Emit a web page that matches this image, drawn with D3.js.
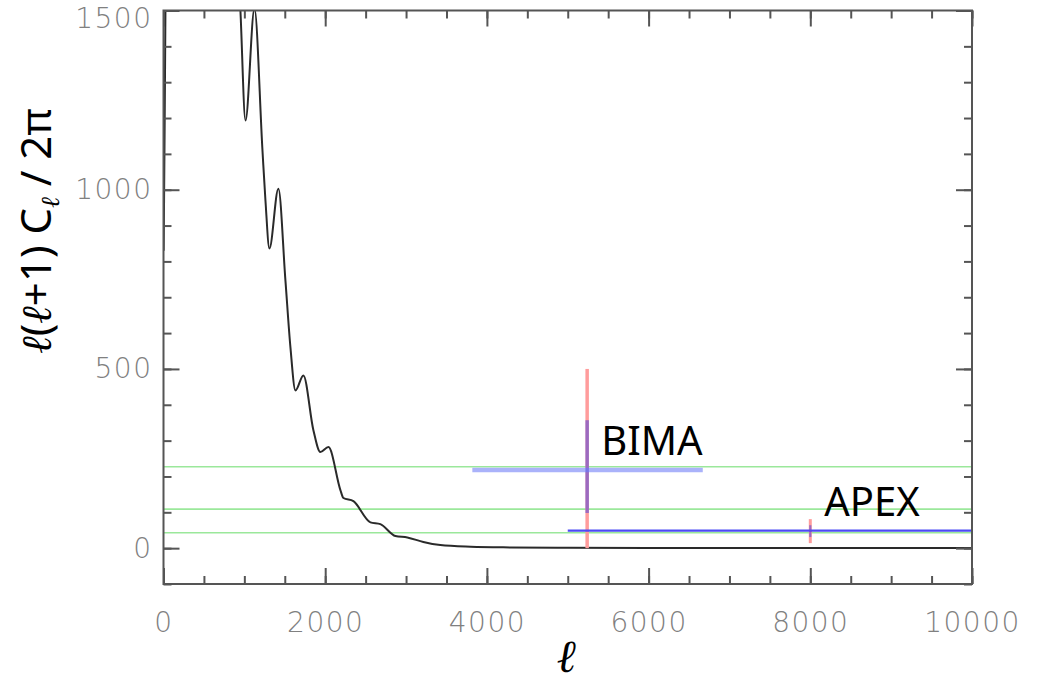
<!DOCTYPE html>
<html>
<head>
<meta charset="utf-8">
<script src="https://cdn.jsdelivr.net/npm/d3@7"></script>
<style>
  body { margin: 0; background: #fff; }
  svg { display: block; }
</style>
</head>
<body>
<svg id="chart" width="1041" height="687"></svg>
<script>
// Angular power spectrum l(l+1)C_l/2pi versus multipole l
const multipoles = [2, 15, 30, 60, 220, 420, 540, 700, 820, 952, 1014, 1125, 1224, 1261, 1310, 1421, 1508, 1570, 1632, 1730, 1854, 1940, 2040, 2188, 2225, 2349, 2559, 2682, 2868, 3016, 3214, 3424, 3800, 4300, 5000, 6000, 8000, 10000];
const powerValues = [830, 1200, 1700, 2400, 5200, 2300, 2600, 1900, 2100, 1497, 1193, 1505, 1110, 970, 836, 1003, 747, 560, 440, 482, 329, 268, 282, 162, 140, 131, 72, 67, 34, 30, 17, 8.5, 4, 2, 1, 0.5, 0.2, 0.1];

// Axis ticks
const xTickValues = [0, 2000, 4000, 6000, 8000, 10000];
const xMinorTicks = d3.range(0, 10001, 500);
const yTickValues = [0, 500, 1000, 1500];
const yMinorTicks = d3.range(-100, 1501, 100);

// Horizontal reference levels
const referenceLevels = [227, 109, 43];

// Experiment error boxes
const experimentNames = ["BIMA", "APEX"];
const experimentEll = [5240, 8000];
const experimentEllLow = [3820, 5000];
const experimentEllHigh = [6670, 11000];
const experimentPower = [218, 49];
const experimentPowerLow = [98, 31];
const experimentPowerHigh = [357, 64];
const experimentRangeLow = [0, 14];
const experimentRangeHigh = [500, 81];

const svg = d3.select("#chart");
const plotLeft = 163.5, plotRight = 972, plotTop = 10.5, plotBottom = 584;

const x = d3.scaleLinear().domain([0, 10000]).range([plotLeft, plotRight]);
const y = d3.scaleLinear().domain([-100, 1500]).range([plotBottom, plotTop]);

svg.append("rect").attr("width", 1041).attr("height", 687).attr("fill", "#fff");

svg.append("defs").append("clipPath").attr("id", "plot-clip")
  .append("rect").attr("x", plotLeft).attr("y", plotTop)
  .attr("width", plotRight - plotLeft).attr("height", plotBottom - plotTop);

const plot = svg.append("g").attr("clip-path", "url(#plot-clip)");

// reference levels
plot.selectAll("line.level").data(referenceLevels).join("line")
  .attr("class", "level")
  .attr("x1", plotLeft).attr("x2", plotRight)
  .attr("y1", d => y(d)).attr("y2", d => y(d))
  .attr("stroke", "#9be89b").attr("stroke-width", 1.6);

// spectrum
const spectrum = multipoles.map((l, i) => [l, powerValues[i]]);
plot.append("path").datum(spectrum)
  .attr("fill", "none")
  .attr("stroke", "#2a2a2a")
  .attr("stroke-width", 2)
  .attr("stroke-linejoin", "round")
  .attr("d", d3.line().x(d => x(d[0])).y(d => y(d[1])).curve(d3.curveMonotoneX));

// experiments
const experiments = experimentNames.map((name, i) => ({
  name, ell: experimentEll[i], lo: experimentEllLow[i], hi: experimentEllHigh[i],
  p: experimentPower[i], pLo: experimentPowerLow[i], pHi: experimentPowerHigh[i],
  rLo: experimentRangeLow[i], rHi: experimentRangeHigh[i]
}));

const horizColor = ["#aab2fa", "#4b4bf5"];
const horizWidth = [4.5, 2.2];
const redWidth = [3.5, 3];

plot.selectAll("line.range").data(experiments).join("line")
  .attr("class", "range")
  .attr("x1", d => x(d.ell)).attr("x2", d => x(d.ell))
  .attr("y1", d => y(d.rLo)).attr("y2", d => y(d.rHi))
  .attr("stroke", "#ff9c9c").attr("stroke-width", (d, i) => redWidth[i]);

plot.selectAll("line.span").data(experiments).join("line")
  .attr("class", "span")
  .attr("x1", d => x(d.lo)).attr("x2", d => x(d.hi))
  .attr("y1", d => y(d.p)).attr("y2", d => y(d.p))
  .attr("stroke", (d, i) => horizColor[i]).attr("stroke-width", (d, i) => horizWidth[i]);

plot.selectAll("line.err").data(experiments).join("line")
  .attr("class", "err")
  .attr("x1", d => x(d.ell)).attr("x2", d => x(d.ell))
  .attr("y1", d => y(d.pLo)).attr("y2", d => y(d.pHi))
  .attr("stroke", "#5a4ad8").attr("stroke-opacity", 0.6).attr("stroke-width", (d, i) => i === 0 ? 3.5 : 2.2);

svg.selectAll("text.exp").data(experiments).join("text")
  .attr("class", "exp")
  .attr("x", d => x(d.ell) + 14)
  .attr("y", d => y(d.p) - 15)
  .attr("font-family", "'Noto Sans', 'Open Sans', sans-serif")
  .attr("font-size", 40)
  .attr("fill", "#000")
  .text(d => d.name);

// frame and ticks
const axisColor = "#555";
function styleAxis(g) {
  g.select(".domain").remove();
  g.selectAll("line").attr("stroke", axisColor).attr("stroke-width", 2);
  g.selectAll("text")
    .attr("fill", "#808080")
    .attr("font-family", "'DejaVu Sans', sans-serif")
    .attr("font-weight", 200)
    .attr("font-size", 28)
    .attr("letter-spacing", 1.5);
}

// minor ticks
svg.append("g").attr("transform", `translate(0,${plotBottom})`)
  .call(d3.axisBottom(x).tickValues(xMinorTicks).tickSize(-8).tickFormat(""))
  .call(styleAxis);
svg.append("g").attr("transform", `translate(0,${plotTop})`)
  .call(d3.axisTop(x).tickValues(xMinorTicks).tickSize(-8).tickFormat(""))
  .call(styleAxis);
svg.append("g").attr("transform", `translate(${plotLeft},0)`)
  .call(d3.axisLeft(y).tickValues(yMinorTicks).tickSize(-8).tickFormat(""))
  .call(styleAxis);
svg.append("g").attr("transform", `translate(${plotRight},0)`)
  .call(d3.axisRight(y).tickValues(yMinorTicks).tickSize(-8).tickFormat(""))
  .call(styleAxis);

// major ticks with labels
svg.append("g").attr("transform", `translate(0,${plotBottom})`)
  .call(d3.axisBottom(x).tickValues(xTickValues).tickSize(-16).tickPadding(28).tickFormat(d3.format("d")))
  .call(styleAxis);
svg.append("g").attr("transform", `translate(0,${plotTop})`)
  .call(d3.axisTop(x).tickValues(xTickValues).tickSize(-16).tickFormat(""))
  .call(styleAxis);
svg.append("g").attr("transform", `translate(${plotLeft},0)`)
  .call(d3.axisLeft(y).tickValues(yTickValues).tickSize(-16).tickPadding(11).tickFormat(d3.format("d")))
  .call(styleAxis)
  // keep the top label inside the page
  .call(g => g.selectAll(".tick text").attr("dy", d => d === 1500 ? "0.62em" : "0.32em"));
svg.append("g").attr("transform", `translate(${plotRight},0)`)
  .call(d3.axisRight(y).tickValues(yTickValues).tickSize(-16).tickFormat(""))
  .call(styleAxis);

svg.append("rect")
  .attr("x", plotLeft).attr("y", plotTop)
  .attr("width", plotRight - plotLeft).attr("height", plotBottom - plotTop)
  .attr("fill", "none").attr("stroke", axisColor).attr("stroke-width", 2);

// axis titles
svg.append("text")
  .attr("x", 566).attr("y", 672)
  .attr("text-anchor", "middle")
  .attr("font-family", "'DejaVu Serif', serif")
  .attr("font-style", "italic")
  .attr("font-size", 46)
  .attr("fill", "#000")
  .text("ℓ");

const yTitle = svg.append("text")
  .attr("transform", "translate(51,231) rotate(-90)")
  .attr("text-anchor", "middle")
  .attr("font-family", "'Noto Sans', sans-serif")
  .attr("font-size", 42)
  .attr("fill", "#000");
const script = "'DejaVu Serif', serif";
yTitle.append("tspan").attr("font-family", script).attr("font-style", "italic").text("ℓ");
yTitle.append("tspan").text("(");
yTitle.append("tspan").attr("font-family", script).attr("font-style", "italic").text("ℓ");
yTitle.append("tspan").text("+1) C");
yTitle.append("tspan").attr("font-family", script).attr("font-style", "italic")
  .attr("font-size", 26).attr("dy", 8).text("ℓ");
yTitle.append("tspan").attr("dy", -8).text(" / 2π");
</script>
</body>
</html>
